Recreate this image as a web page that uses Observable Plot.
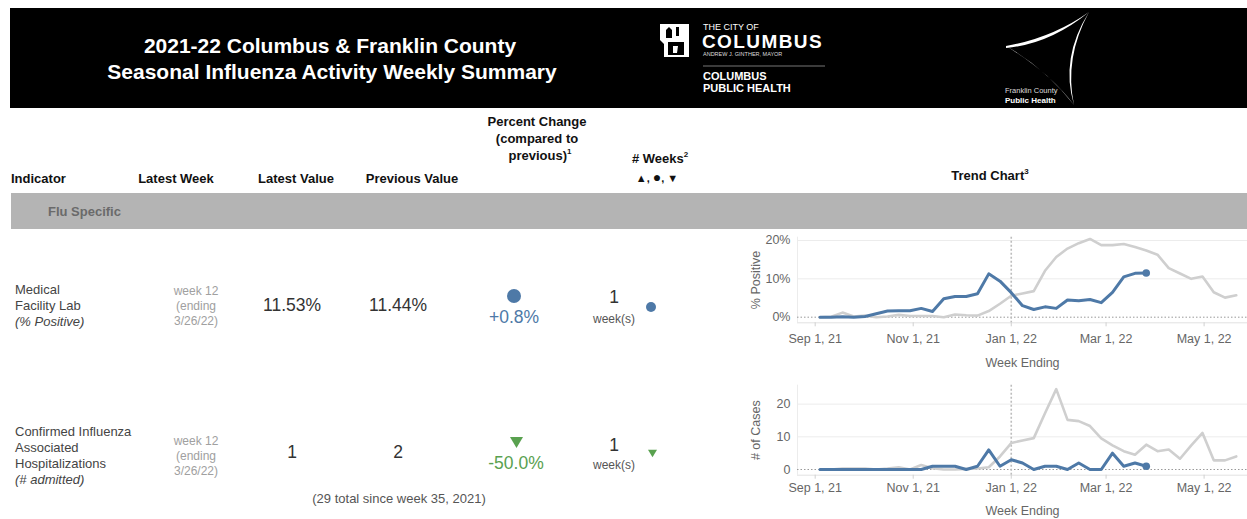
<!DOCTYPE html>
<html><head><meta charset="utf-8">
<script src="https://cdn.jsdelivr.net/npm/d3@7"></script>
<script src="https://cdn.jsdelivr.net/npm/@observablehq/plot@0.6"></script>
<style>
html,body{margin:0;padding:0;}
body{width:1247px;height:519px;position:relative;overflow:hidden;background:#fff;font-family:"Liberation Sans",Arial,sans-serif;color:#333;}
.t{position:absolute;white-space:nowrap;line-height:1;}
.hdr{font-weight:bold;font-size:13px;color:#111;}
sup{font-size:8px;vertical-align:6px;line-height:0;}
.chart{position:absolute;}
</style></head><body>
<script>
// ---------- data ----------
const weekEnding = ["2021-09-04","2021-09-11","2021-09-18","2021-09-25","2021-10-02","2021-10-09","2021-10-16","2021-10-23","2021-10-30",
  "2021-11-06","2021-11-13","2021-11-20","2021-11-27","2021-12-04","2021-12-11","2021-12-18","2021-12-25","2022-01-01",
  "2022-01-08","2022-01-15","2022-01-22","2022-01-29","2022-02-05","2022-02-12","2022-02-19","2022-02-26","2022-03-05",
  "2022-03-12","2022-03-19","2022-03-26","2022-04-02","2022-04-09","2022-04-16","2022-04-23","2022-04-30","2022-05-07",
  "2022-05-14","2022-05-21"];
// Medical facility lab % positive, current season (2021-22)
const posCurrent = [0,0,0.1,0,0.2,0.9,1.6,1.7,1.7,2.3,1.5,4.8,5.4,5.4,6.1,11.3,9.4,6.4,3.0,2.0,2.7,2.3,4.5,4.3,4.6,3.8,6.5,10.5,11.44,11.53];
// comparison season (grey line)
const posPrior = [0,0.1,1.2,0.2,0.4,0,0.2,0.6,0.3,0.3,0.3,0,0.7,0.5,0.4,1.6,3.5,5.6,6.2,6.8,12.1,15.7,17.9,19.3,20.4,18.8,18.8,19.1,18.3,17.4,16.3,12.8,11.4,10.0,10.6,6.5,5.1,5.7];
// Confirmed influenza associated hospitalizations, current season
const casesCurrent = [0,0,0,0,0,0,0,0,0,0,1,1,1,0,1,6,1,3,2,0,1,1,0,2,0,0,5,1,2,1];
const casesPrior = [0,0,0.3,0.3,0.3,0,0.3,0.7,0,1.4,0.4,0,0,0.2,0.3,0.7,4.0,8.1,8.9,9.6,17.2,24.6,15.2,14.8,13.3,9.5,7.4,5.6,4.5,7.6,5.6,6.1,3.3,7.4,11.2,2.8,2.8,4.0];
const xTickDates = ["2021-09-01","2021-11-01","2022-01-01","2022-03-01","2022-05-01"];
const yearBreak = "2022-01-01";
const posTicks = [0,10,20];
const casesTicks = [0,10,20];

// table values
const indicatorLines = [["Medical","Facility Lab"],["Confirmed Influenza","Associated","Hospitalizations"]];
const indicatorUnits = ["(% Positive)","(# admitted)"];
const latestWeekLines = [["week 12","(ending","3/26/22)"],["week 12","(ending","3/26/22)"]];
const latestValues = ["11.53%","1"];
const previousValues = ["11.44%","2"];
const pctChanges = ["+0.8%","-50.0%"];
const directions = ["flat","down"];
const weeksCount = ["1","1"];
const totalNote = "(29 total since week 35, 2021)";

const BLUE = "#4e79a7", GREEN = "#59a14f";

// ---------- helpers ----------
function put(html, x, y, style, anchor) {
  const d = document.createElement("div");
  d.className = "t";
  d.innerHTML = html;
  d.style.left = x + "px"; d.style.top = y + "px";
  d.style.transform = anchor === "left" ? "translate(0,-50%)" : "translate(-50%,-50%)";
  if (style) d.setAttribute("style", d.getAttribute("style") + ";" + style);
  document.body.appendChild(d);
  return d;
}
function svgShape(kind, cx, cy, size, color) {
  const ns = "http://www.w3.org/2000/svg";
  const s = document.createElementNS(ns, "svg");
  s.setAttribute("width", size); s.setAttribute("height", size);
  s.style.position = "absolute"; s.style.left = (cx - size/2) + "px"; s.style.top = (cy - size/2) + "px";
  let e;
  if (kind === "flat") { e = document.createElementNS(ns, "circle"); e.setAttribute("cx", size/2); e.setAttribute("cy", size/2); e.setAttribute("r", size/2); }
  else { e = document.createElementNS(ns, "path"); const h = size*0.85; e.setAttribute("d", `M0,${(size-h)/2}L${size},${(size-h)/2}L${size/2},${(size+h)/2}Z`); }
  e.setAttribute("fill", color);
  s.appendChild(e); document.body.appendChild(s);
}

// ---------- header ----------
const hb = document.createElement("div");
hb.setAttribute("style","position:absolute;left:10px;top:8px;width:1237px;height:100px;background:#000");
document.body.appendChild(hb);
put("2021-22 Columbus &amp; Franklin County", 330, 45, "color:#fff;font-weight:bold;font-size:21px");
put("Seasonal Influenza Activity Weekly Summary", 332, 71, "color:#fff;font-weight:bold;font-size:21px");

// logos (decorative)
const logo = document.createElement("div");
logo.innerHTML = `<svg width="1247" height="110" style="position:absolute;left:0;top:0">
 <g fill="#fff">
  <path d="M660,24 L689,24 L689,57 L664,57 L664,44 L660,40 Z"/>
  <path d="M666,30 L669,27 L672,30 L672,38 L666,38 Z" fill="#000"/>
  <path d="M676,27 L679,27 L679,36 L676,36 Z" fill="#000"/>
  <path d="M668,42 L684,42 L684,55 L668,55 Z" fill="#000"/>
  <path d="M673,46 L678,46 L677,53 L673,53 Z" fill="#fff"/>
 </g>
 <line x1="703" y1="66" x2="825" y2="66" stroke="#777" stroke-width="1"/>
 <g fill="#fff" stroke="none">
  <path d="M1006,46 Q1052,38 1089,12 Q1050,44 1006,48 Z"/>
  <path d="M1089,12 Q1060,58 1074,105 Q1064,58 1089,12 Z"/>
  <path d="M1074,105 Q1045,68 1006,46 Q1049,72 1074,105 Z"/>
 </g>
</svg>`;
document.body.appendChild(logo);
put("THE CITY OF", 703, 27, "color:#fff;font-size:9px", "left");
put("COLUMBUS", 702, 41, "color:#fff;font-size:19px;font-weight:bold;letter-spacing:1.4px", "left");
put("ANDREW J. GINTHER, MAYOR", 703, 55, "color:#ddd;font-size:5.5px", "left");
put("COLUMBUS", 703, 76, "color:#fff;font-size:11px;font-weight:bold", "left");
put("PUBLIC HEALTH", 703, 88, "color:#fff;font-size:11px;font-weight:bold", "left");
put("Franklin County", 1005, 91, "color:#ddd;font-size:7.5px", "left");
put("Public Health", 1005, 101, "color:#fff;font-size:8px;font-weight:bold", "left");

// ---------- column headers ----------
put("Indicator", 11, 178, "", "left").classList.add("hdr");
put("Latest Week", 176, 178).classList.add("hdr");
put("Latest Value", 296, 178).classList.add("hdr");
put("Previous Value", 412, 178).classList.add("hdr");
put("Percent Change", 537, 121).classList.add("hdr");
put("(compared to", 537, 138).classList.add("hdr");
put("previous)<sup>1</sup>", 540, 155).classList.add("hdr");
put("# Weeks<sup>2</sup>", 660, 158).classList.add("hdr");
put("▲, <span style='font-size:14px'>●</span>, ▼", 657, 177, "font-size:11px").classList.add("hdr");
put("Trend Chart<sup>3</sup>", 990, 175).classList.add("hdr");

const band = document.createElement("div");
band.setAttribute("style","position:absolute;left:11px;top:193px;width:1236px;height:36px;background:#b4b4b4");
document.body.appendChild(band);
put("Flu Specific", 48, 211, "font-weight:bold;font-size:13px;color:#6a6a6a", "left");

// ---------- rows ----------
const rowCenters = [305, 455];
indicatorLines.forEach((lines, r) => {
  const all = lines.map(s => s).concat([`<i>${indicatorUnits[r]}</i>`]);
  const top = rowCenters[r] - (all.length - 1) * 8;
  all.forEach((s, k) => put(s, 15, top + k * 16, "font-size:13px;color:#444", "left"));
  latestWeekLines[r].forEach((s, k) => put(s, 196, (r ? 441 : 291) + k * 15, "font-size:12px;color:#a0a0a0"));
  put(latestValues[r], 292, r ? 453 : 306, "font-size:17.5px;color:#333");
  put(previousValues[r], 398, r ? 453 : 306, "font-size:17.5px;color:#333");
  const col = directions[r] === "flat" ? BLUE : GREEN;
  if (directions[r] === "flat") svgShape("flat", 514, 296, 14, col); else svgShape("down", 516, 442, 13, col);
  put(pctChanges[r], r ? 516 : 514, r ? 464 : 318, `font-size:17.5px;color:${col}`);
  put(weeksCount[r], 614, r ? 446 : 298, "font-size:17.5px;color:#333");
  put("week(s)", 614, r ? 465 : 319, "font-size:12px;color:#555");
  if (directions[r] === "flat") svgShape("flat", 651, 307, 10, col); else svgShape("down", 652, 453, 9, col);
});
put(totalNote, 399, 498, "font-size:13px;color:#555");

// ---------- trend charts ----------
function trend({cur, prior, yDomain, yTicks, yFmt, yLabel, height, marginTop, marginBottom, tickPadding, labelOffset, left, top}) {
  const curData = cur.map((v, i) => ({date: new Date(weekEnding[i]), v}));
  const priorData = prior.map((v, i) => ({date: new Date(weekEnding[i]), v}));
  const xDomain = [new Date("2021-08-21"), new Date("2022-05-28")];
  const chart = Plot.plot({
    width: 507, height, marginLeft: 57, marginRight: 0, marginTop, marginBottom,
    style: {fontFamily: "Liberation Sans, Arial, sans-serif", fontSize: "12.5px", background: "transparent", overflow: "visible"},
    x: {type: "utc", domain: xDomain},
    y: {domain: yDomain},
    marks: [
      Plot.ruleY(yTicks.filter(t => t !== 0), {stroke: "#ececec", strokeWidth: 1}),
      Plot.ruleX([xDomain[0]], {stroke: "#ececec"}),
      Plot.ruleY([0], {stroke: "#999", strokeDasharray: "1.5,2"}),
      Plot.ruleY([yDomain[0]], {stroke: "#e2e2e2"}),
      Plot.ruleX([new Date(yearBreak)], {stroke: "#bdbdbd", strokeWidth: 1.6, strokeDasharray: "2,2"}),
      Plot.line(priorData, {x: "date", y: "v", stroke: "#cfcfcf", strokeWidth: 2.6, strokeLinejoin: "round"}),
      Plot.line(curData, {x: "date", y: "v", stroke: BLUE, strokeWidth: 3, strokeLinejoin: "round"}),
      Plot.dot(curData.slice(-1), {x: "date", y: "v", fill: BLUE, r: 3.8}),
      Plot.axisX({ticks: xTickDates.map(d => new Date(d)), tickFormat: d3.utcFormat("%b %-d, %y"), tickSize: 4, tickPadding,
        stroke: "#d0d0d0", fill: "#666", label: "Week Ending", labelAnchor: "center", labelOffset, labelArrow: "none"}),
      Plot.axisY({ticks: yTicks, tickFormat: yFmt, tickSize: 0, tickPadding: 7, fill: "#666",
        label: yLabel, labelAnchor: "center", labelOffset: 46, labelArrow: "none"})
    ]
  });
  chart.classList.add("chart");
  chart.style.left = left + "px"; chart.style.top = top + "px";
  document.body.appendChild(chart);
}
trend({cur: posCurrent, prior: posPrior, yDomain: [-1.46, 20.86], yTicks: posTicks, yFmt: d => d + "%", yLabel: "% Positive",
  height: 142, marginTop: 8.7, marginBottom: 47.7, tickPadding: 7, labelOffset: 44, left: 740, top: 228});
trend({cur: casesCurrent, prior: casesPrior, yDomain: [-1.74, 25.8], yTicks: casesTicks, yFmt: d => d, yLabel: "# of Cases",
  height: 141, marginTop: 6.7, marginBottom: 44.3, tickPadding: 4, labelOffset: 40, left: 740, top: 378});
</script>
</body></html>
